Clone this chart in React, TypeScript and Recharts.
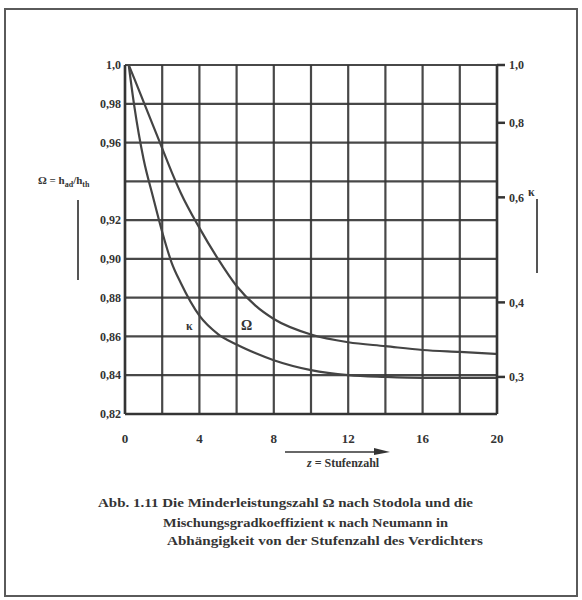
import React from 'react';
import { LineChart, Line, XAxis, YAxis, CartesianGrid } from 'recharts';

// Stufenzahl z (x axis)
const stageNumbers = [0.2, 0.5, 1, 1.5, 2, 2.5, 3, 4, 5, 6, 7, 8, 10, 12, 14, 16, 18, 20];
// Minderleistungszahl Omega (left axis)
const omegaValues = [1.0, 0.993, 0.981, 0.969, 0.957, 0.945, 0.934, 0.916, 0.9, 0.886, 0.876, 0.869, 0.861, 0.857, 0.855, 0.853, 0.852, 0.851];
// Koeffizient kappa (right axis)
const kappaValues = [1.0, 0.853, 0.695, 0.602, 0.525, 0.467, 0.431, 0.38, 0.354, 0.34, 0.329, 0.32, 0.308, 0.302, 0.3, 0.299, 0.299, 0.299];

const xTicks = [0, 2, 4, 6, 8, 10, 12, 14, 16, 18, 20];
const xTickLabels = ['0', '', '4', '', '8', '', '12', '', '16', '', '20'];
const leftTicks = [0.82, 0.84, 0.86, 0.88, 0.9, 0.92, 0.94, 0.96, 0.98, 1.0];
const leftTickLabels = ['0,82', '0,84', '0,86', '0,88', '0,90', '0,92', '', '0,96', '0,98', '1,0'];
const rightTicks = [0.3, 0.4, 0.6, 0.8, 1.0];
const rightTickLabels = ['0,3', '0,4', '0,6', '0,8', '1,0'];

const captionLines = [
  'Abb. 1.11 Die Minderleistungszahl Ω nach Stodola und die',
  'Mischungsgradkoeffizient κ nach Neumann in',
  'Abhängigkeit von der Stufenzahl des Verdichters',
];

const data = stageNumbers.map((z, i) => ({ z, omega: omegaValues[i], kappa: kappaValues[i] }));

const INK = '#343434';
const FONT = '"Liberation Serif", "DejaVu Serif", serif';

export default function App() {
  const tickStyle = { fontFamily: FONT, fontSize: 12, fontWeight: 700, fill: INK };
  return (
    <div style={{ position: 'absolute', left: 0, top: 0, width: 582, height: 600, background: '#ffffff' }}>
      <div
        style={{
          position: 'absolute',
          left: 4,
          top: 8,
          width: 570,
          height: 585,
          border: '2px solid #5a5a5a',
        }}
      />
      <div style={{ position: 'absolute', left: 0, top: 0 }}>
        <LineChart width={582} height={600} data={data} margin={{ top: 65, right: 45, bottom: 150, left: 60 }}>
          <CartesianGrid yAxisId="left" stroke={INK} strokeWidth={2.2} strokeOpacity={0.9} />
          <XAxis
            dataKey="z"
            type="number"
            domain={[0, 20]}
            ticks={xTicks}
            interval={0}
            height={36}
            tickSize={0}
            tickMargin={20}
            axisLine={{ stroke: INK, strokeWidth: 2.5 }}
            tickLine={false}
            tick={{ ...tickStyle, fontSize: 13 }}
            tickFormatter={(v: number) => xTickLabels[xTicks.indexOf(v)] ?? ''}
          />
          <YAxis
            yAxisId="left"
            type="number"
            domain={[0.82, 1.0]}
            ticks={leftTicks}
            interval={0}
            width={65}
            tickSize={0}
            tickMargin={4}
            axisLine={{ stroke: INK, strokeWidth: 2.5 }}
            tickLine={false}
            tick={tickStyle}
            tickFormatter={(v: number) => leftTickLabels[leftTicks.indexOf(v)] ?? ''}
          />
          <YAxis
            yAxisId="right"
            orientation="right"
            type="number"
            scale="log"
            domain={[0.26, 1.0]}
            allowDataOverflow
            ticks={rightTicks}
            interval={0}
            width={40}
            tickSize={8}
            tickMargin={4}
            axisLine={{ stroke: INK, strokeWidth: 2.5 }}
            tickLine={{ stroke: INK, strokeWidth: 2.5 }}
            tick={tickStyle}
            tickFormatter={(v: number) => rightTickLabels[rightTicks.indexOf(v)] ?? ''}
          />
          <Line
            yAxisId="left"
            type="monotone"
            dataKey="omega"
            stroke="#444"
            strokeWidth={2.2}
            dot={false}
            isAnimationActive={false}
          />
          <Line
            yAxisId="right"
            type="monotone"
            dataKey="kappa"
            stroke="#444"
            strokeWidth={2.2}
            dot={false}
            isAnimationActive={false}
          />
        </LineChart>
      </div>
      <svg
        width={582}
        height={600}
        style={{ position: 'absolute', left: 0, top: 0, pointerEvents: 'none' }}
      >
        {/* left axis title */}
        <text x={38} y={184} fontFamily={FONT} fontSize={11} fontWeight={700} fill={INK}>
          Ω = h
          <tspan fontSize={8} dy={3}>ad</tspan>
          <tspan dy={-3}>/h</tspan>
          <tspan fontSize={8} dy={3}>th</tspan>
        </text>
        <line x1={78} y1={200} x2={78} y2={280} stroke="#555" strokeWidth={2} />
        {/* right axis title */}
        <text x={528} y={196} fontFamily={FONT} fontSize={12} fontWeight={700} fill={INK}>κ</text>
        <line x1={537} y1={199} x2={537} y2={273} stroke="#555" strokeWidth={2} />
        {/* x axis title with arrow */}
        <line x1={285} y1={452} x2={382} y2={452} stroke={INK} strokeWidth={1.6} />
        <polygon points="374,448 390,452 374,455" fill={INK} />
        <text x={307} y={467} fontFamily={FONT} fontSize={12} fontWeight={700} fill={INK}>
          <tspan fontStyle="italic">z</tspan> = Stufenzahl
        </text>
        {/* curve labels */}
        <text x={186} y={330} fontFamily={FONT} fontSize={12} fontWeight={700} fill={INK}>κ</text>
        <text x={241} y={330} fontFamily={FONT} fontSize={14} fontWeight={700} fill={INK}>Ω</text>
        {/* caption */}
        <text x={98} y={507} fontFamily={FONT} fontSize={12} fontWeight={700} fill={INK} textLength={375} lengthAdjust="spacingAndGlyphs">
          {captionLines[0]}
        </text>
        <text x={163} y={527} fontFamily={FONT} fontSize={12} fontWeight={700} fill={INK} textLength={285} lengthAdjust="spacingAndGlyphs">
          {captionLines[1]}
        </text>
        <text x={167} y={545} fontFamily={FONT} fontSize={12} fontWeight={700} fill={INK} textLength={316} lengthAdjust="spacingAndGlyphs">
          {captionLines[2]}
        </text>
      </svg>
    </div>
  );
}
